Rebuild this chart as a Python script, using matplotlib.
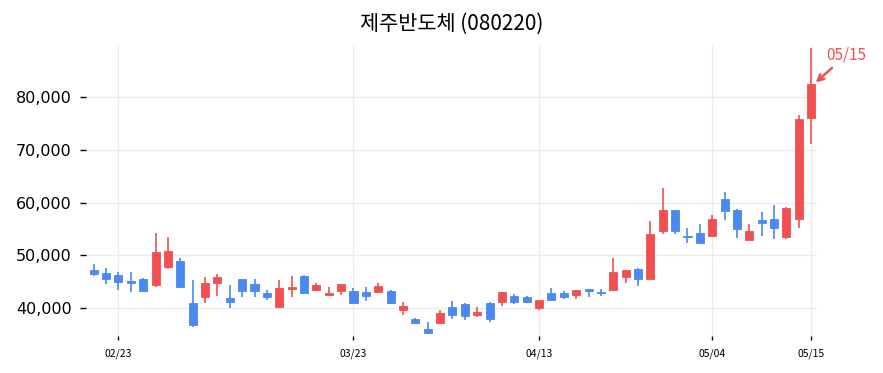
import numpy as np
import matplotlib.pyplot as plt
from matplotlib.ticker import FuncFormatter

plt.rcParams['font.family'] = ['Noto Sans CJK KR', 'DejaVu Sans']

title = '제주반도체 (080220)'

opens = [47190, 46625, 46250, 45125, 45500, 44375, 47810, 48875, 41000, 42000,
         44810, 41810, 45560, 44440, 42750, 40250, 43625, 46060, 43440, 42500,
         43190, 43125, 43060, 43060, 43250, 39500, 37940, 35940, 37190, 40250,
         40750, 38690, 40940, 41060, 42190, 42125, 39940, 42750, 42750, 42440,
         43560, 43060, 43375, 45940, 47440, 45560, 54680, 58525, 53720, 54170,
         53590, 60640, 58530, 52885, 56600, 56800, 53530, 56880, 75990]
highs = [48250, 47500, 46875, 46875, 45750, 54190, 53440, 49500, 45250, 45940,
         46375, 44310, 45560, 45440, 43375, 45250, 46000, 46190, 44690, 43875,
         44500, 43690, 44000, 44690, 43375, 41060, 38125, 37310, 39625, 41250,
         40940, 40125, 41060, 43060, 42625, 42190, 41500, 43750, 43250, 43440,
         43560, 43560, 49375, 47125, 47625, 56475, 62690, 58650, 55190, 55960,
         57690, 61920, 58720, 55960, 58270, 59490, 59170, 76620, 89300]
lows = [46060, 44500, 43375, 43000, 43250, 44000, 47310, 43875, 36375, 40940,
        42310, 40000, 42125, 42125, 41500, 40250, 42000, 42750, 43250, 42440,
        42440, 40940, 41375, 42940, 40750, 38560, 36875, 35000, 36875, 37940,
        37625, 38250, 37310, 40440, 40750, 40940, 39625, 41560, 41690, 41690,
        42125, 42310, 43375, 44625, 44190, 45385, 54040, 54040, 52310, 52240,
        53590, 56730, 53270, 52885, 53650, 53080, 53080, 55100, 71210]
closes = [46375, 45560, 45000, 44625, 43250, 50560, 50750, 43875, 36690, 44750,
          45875, 41060, 43250, 43250, 42000, 43750, 43875, 42750, 44375, 42875,
          44500, 41000, 42190, 44060, 40875, 40310, 37190, 35125, 39060, 38690,
          38440, 39190, 37940, 43060, 41060, 41060, 41500, 41560, 42125, 43440,
          43125, 42875, 46810, 47125, 45560, 54100, 58525, 54680, 53400, 52240,
          56800, 58400, 54940, 54680, 56090, 55130, 58910, 75920, 82480]

tick_idx = [2, 21, 36, 50, 58]
tick_labels = ['02/23', '03/23', '04/13', '05/04', '05/15']
last_label = '05/15'

up_color = '#F05050'
down_color = '#4A88F2'

fig, ax = plt.subplots(figsize=(8.83, 3.73), dpi=100)
fig.subplots_adjust(left=0.097, right=0.925, top=0.88, bottom=0.10)

x = np.arange(len(opens))
o = np.array(opens)
h = np.array(highs)
l = np.array(lows)
c = np.array(closes)
colors = np.where(c >= o, up_color, down_color)

ax.vlines(x, l, h, colors=colors, linewidth=1.2, zorder=2)
ax.bar(x, np.abs(c - o), bottom=np.minimum(o, c), width=0.65,
       color=colors, edgecolor=colors, linewidth=0.6, zorder=3)

ax.set_xlim(-0.65, len(x) - 0.55)
ax.set_ylim(34700, 90000)
ax.set_xticks(tick_idx)
ax.set_xticklabels(tick_labels, fontsize=7.5)
ax.set_yticks([40000, 50000, 60000, 70000, 80000])
ax.yaxis.set_major_formatter(FuncFormatter(lambda v, p: f'{int(v):,}'))
for lbl in ax.get_yticklabels():
    lbl.set_family('DejaVu Sans')
ax.tick_params(axis='y', labelsize=11.5, length=4, width=1, pad=6)
ax.tick_params(axis='x', length=3, width=1, pad=6)
for lbl in ax.get_yticklabels():
    lbl.set_family('DejaVu Sans')

ax.grid(True, color='#EBEBEB', linewidth=1)
ax.set_axisbelow(True)
for s in ax.spines.values():
    s.set_visible(False)

ax.set_title(title, fontsize=15, pad=11)

ax.annotate(last_label, xy=(x[-1] + 0.2, c[-1]), xytext=(x[-1] + 1.25, 86500),
            color=up_color, fontsize=11,
            arrowprops=dict(arrowstyle='->', color=up_color, lw=1.8),
            ha='left', va='bottom', annotation_clip=False)

fig.savefig('out.png', dpi=100)
